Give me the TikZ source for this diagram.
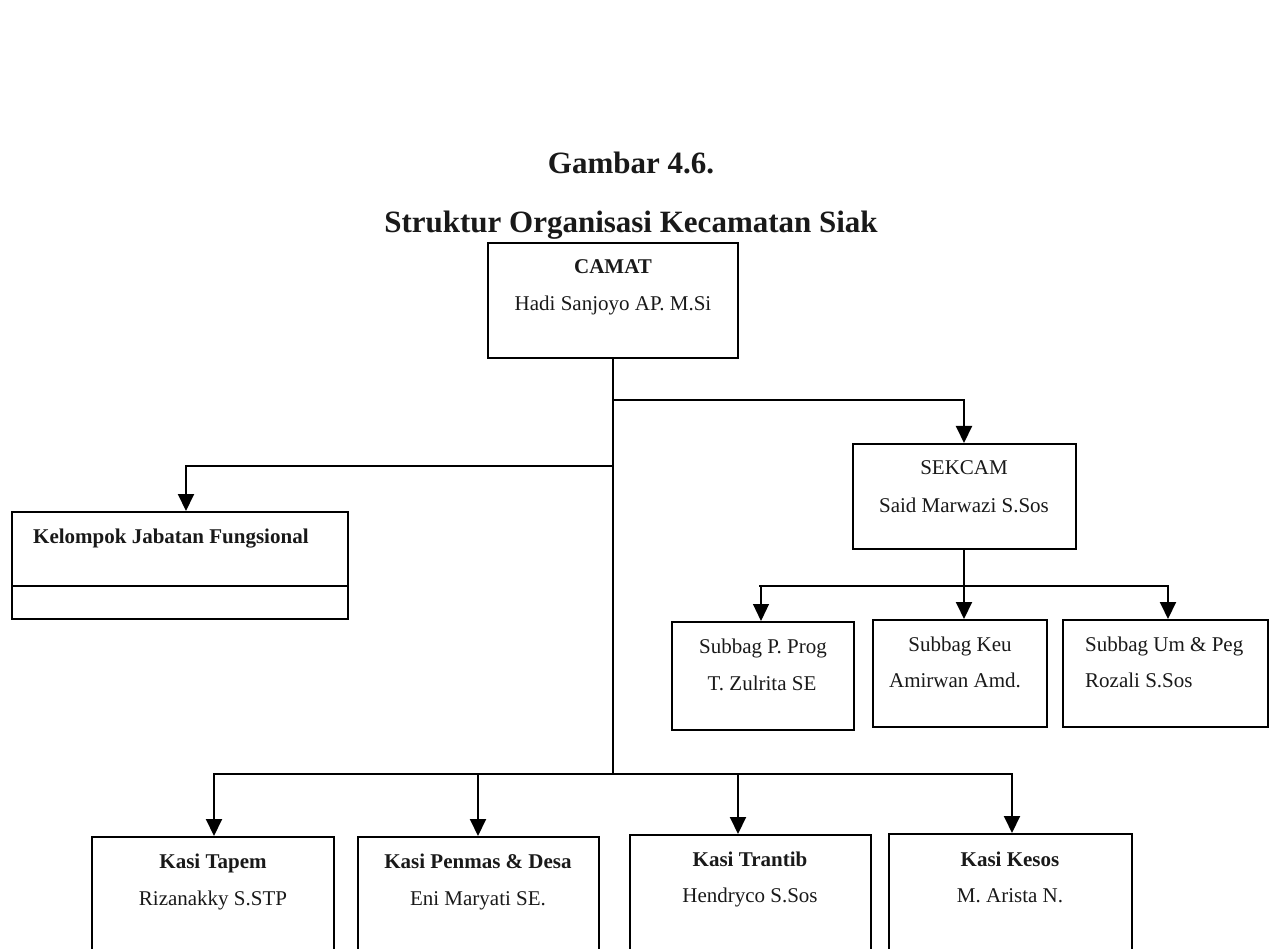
\documentclass[tikz,border=0pt]{standalone}
\usepackage{fontspec}
\setmainfont{Liberation Serif}
\usetikzlibrary{arrows.meta}
\begin{document}
\begin{tikzpicture}[x=1pt,y=-1pt,
  box/.style={draw, line width=2pt, inner sep=0pt},
  conn/.style={line width=2pt},
  arr/.style={conn, -{Triangle[width=16pt,length=17pt]}},
  lbl/.style={anchor=base, inner sep=0pt, text=black!90, font=\fontsize{21}{25}\selectfont},
  lblb/.style={lbl, font=\fontsize{21}{25}\selectfont\bfseries},
  ttl/.style={anchor=base, inner sep=0pt, text=black!90, font=\fontsize{31}{36}\selectfont\bfseries}]
\useasboundingbox (0,0) rectangle (1272,949);
\clip (0,0) rectangle (1272,949);

% title
\node[ttl] (t1) at (631,174) {Gambar 4.6.};
\node[ttl] (t2) at (631,233) {Struktur Organisasi Kecamatan Siak};

% boxes
\node[box, minimum width=250pt, minimum height=115pt] (camat) at (613,300.5) {};
\node[box, minimum width=336pt, minimum height=107pt] (kjf) at (180,565.5) {};
\node[box, minimum width=223pt, minimum height=105pt] (sekcam) at (964.5,496.5) {};
\node[box, minimum width=182pt, minimum height=108pt] (pprog) at (763,676) {};
\node[box, minimum width=174pt, minimum height=107pt] (keu) at (960,673.5) {};
\node[box, minimum width=205pt, minimum height=107pt] (um) at (1165.5,673.5) {};
\node[box, minimum width=242pt, minimum height=143pt] (tapem) at (213,908.5) {};
\node[box, minimum width=241pt, minimum height=143pt] (penmas) at (478.5,908.5) {};
\node[box, minimum width=241pt, minimum height=145pt] (trantib) at (750.5,907.5) {};
\node[box, minimum width=243pt, minimum height=146pt] (kesos) at (1010.5,907) {};

% lower row of the Kelompok box
\draw[conn] (kjf.west |- 0,586) -- (kjf.east |- 0,586);

% box texts
\node[lblb] (camat1) at (613,274) {CAMAT};
\node[lbl]  (camat2) at (613,311) {Hadi Sanjoyo AP. M.Si};
\node[lblb, anchor=base west] (kjf1) at (33,543) {Kelompok Jabatan Fungsional};
\node[lbl]  (sek1) at (964,475) {SEKCAM};
\node[lbl]  (sek2) at (964,512) {Said Marwazi S.Sos};
\node[lbl]  (pp1) at (763,653) {Subbag P. Prog};
\node[lbl]  (pp2) at (762,690) {T. Zulrita SE};
\node[lbl]  (keu1) at (960,651) {Subbag Keu};
\node[lbl]  (keu2) at (955,687) {Amirwan Amd.};
\node[lbl, anchor=base west] (um1) at (1085,651) {Subbag Um \& Peg};
\node[lbl, anchor=base west] (um2) at (1085,687) {Rozali S.Sos};
\node[lblb] (tap1) at (213,868) {Kasi Tapem};
\node[lbl]  (tap2) at (213,905) {Rizanakky S.STP};
\node[lblb] (pen1) at (478,868) {Kasi Penmas \& Desa};
\node[lbl]  (pen2) at (478,905) {Eni Maryati SE.};
\node[lblb] (tra1) at (750,866) {Kasi Trantib};
\node[lbl]  (tra2) at (750,902) {Hendryco S.Sos};
\node[lblb] (kes1) at (1010,866) {Kasi Kesos};
\node[lbl]  (kes2) at (1010,902) {M. Arista N.};

% junctions on the trunks
\coordinate (j1) at (613,400);
\coordinate (j2) at (613,466);
\coordinate (j3) at (613,774);
\coordinate (j4) at (964,586);
\coordinate (j5) at (759,586);

% connectors
\draw[conn] (camat.south) -- (j3);
\draw[arr] (j1) -| ([xshift=-0.5pt]sekcam.north);
\draw[arr] (j2) -| ([xshift=6pt]kjf.north);
\draw[arr] ([xshift=-0.5pt]sekcam.south) -- (j4) -- (j4 |- keu.north);
\draw[conn] (j5) -- (j4);
\draw[arr, line width=1.2pt] ([xshift=2pt]j5) -- ([xshift=-2pt]pprog.north);
\draw[arr] (j4) -| ([xshift=2.5pt]um.north);
\draw[arr] (j3) -| ([xshift=1pt]tapem.north);
\draw[arr] (j3) -| ([xshift=-0.5pt]penmas.north);
\draw[arr] (j3) -| ([xshift=-12.5pt]trantib.north);
\draw[arr] (j3) -| ([xshift=1.5pt]kesos.north);
\end{tikzpicture}
\end{document}
